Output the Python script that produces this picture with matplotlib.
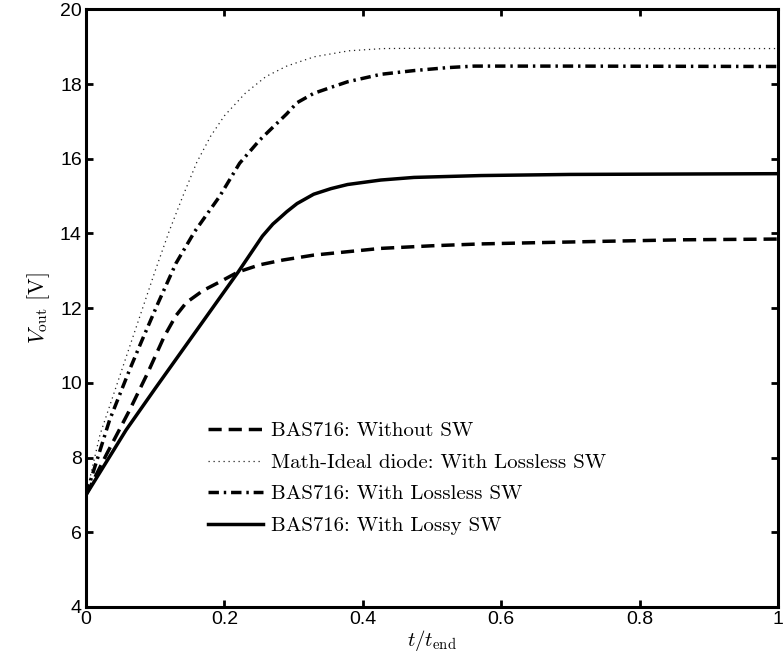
import matplotlib
matplotlib.use('Agg')
import matplotlib.pyplot as plt
from matplotlib import font_manager

plt.rcParams['mathtext.fontset'] = 'cm'

# Исходные данные
t_ideal = [0, 0.02, 0.04, 0.06, 0.08, 0.10, 0.12, 0.14, 0.16, 0.18, 0.20, 0.23,
           0.26, 0.29, 0.33, 0.38, 0.43, 0.5, 0.6, 0.8, 1.0]
v_ideal = [7.0, 8.6, 9.7, 10.8, 11.9, 13.0, 14.05, 15.0, 15.9, 16.6, 17.15, 17.75,
           18.2, 18.48, 18.73, 18.89, 18.95, 18.96, 18.96, 18.95, 18.95]

t_lossless = [0, 0.034, 0.063, 0.08, 0.104, 0.13, 0.157, 0.193, 0.222, 0.251, 0.271,
              0.29, 0.305, 0.329, 0.354, 0.378, 0.426, 0.474, 0.523, 0.561, 0.7, 1.0]
v_lossless = [7.0, 9.0, 10.35, 11.1, 12.13, 13.2, 14.05, 14.99, 15.88, 16.5, 16.86,
              17.2, 17.5, 17.75, 17.91, 18.06, 18.26, 18.36, 18.44, 18.48, 18.48, 18.47]

t_lossy = [0, 0.058, 0.1, 0.15, 0.2, 0.22, 0.255, 0.27, 0.281, 0.29, 0.305, 0.329,
           0.354, 0.378, 0.426, 0.474, 0.571, 0.7, 0.85, 1.0]
v_lossy = [7.0, 8.74, 9.85, 11.15, 12.45, 12.97, 13.93, 14.25, 14.43, 14.58, 14.8, 15.05,
           15.2, 15.31, 15.43, 15.5, 15.55, 15.58, 15.59, 15.6]

t_nosw = [0, 0.03, 0.063, 0.089, 0.113, 0.13, 0.145, 0.169, 0.193, 0.22, 0.251, 0.285,
          0.329, 0.426, 0.5, 0.571, 0.643, 0.75, 0.861, 1.0]
v_nosw = [7.0, 8.1, 9.27, 10.26, 11.24, 11.8, 12.15, 12.47, 12.7, 12.97, 13.16, 13.29,
          13.42, 13.6, 13.67, 13.72, 13.75, 13.79, 13.83, 13.85]

labels = ['BAS716: Without SW',
          'Math-Ideal diode: With Lossless SW',
          'BAS716: With Lossless SW',
          'BAS716: With Lossy SW']

x_ticks = [0, 0.2, 0.4, 0.6, 0.8, 1]
x_tick_labels = ['0', '0.2', '0.4', '0.6', '0.8', '1']
y_ticks = [4, 6, 8, 10, 12, 14, 16, 18, 20]

# узкий шрифт для подписей делений, если он есть
installed = {f.name for f in font_manager.fontManager.ttflist}
tick_font = 'Liberation Sans'
for name in ['Liberation Sans Narrow', 'DejaVu Sans Condensed']:
    if name in installed:
        tick_font = name
        break

fig = plt.figure(figsize=(7.84, 6.71), dpi=100)
ax = fig.add_axes([0.1097, 0.0954, 0.8826, 0.8907])

ax.plot(t_nosw, v_nosw, color='k', lw=2.5, linestyle=(0, (3.8, 2.0)), label=labels[0])
ax.plot(t_ideal, v_ideal, color='#222222', lw=0.9, linestyle=(0, (1, 3)), label=labels[1])
ax.plot(t_lossless, v_lossless, color='k', lw=2.5, linestyle=(0, (3.0, 1.4, 0.7, 1.4)),
        label=labels[2])
ax.plot(t_lossy, v_lossy, color='k', lw=2.5, linestyle='-', label=labels[3])

ax.set_xlim(0, 1)
ax.set_ylim(4, 20)
ax.set_xticks(x_ticks)
ax.set_xticklabels(x_tick_labels)
ax.set_yticks(y_ticks)
ax.tick_params(direction='in', length=5, width=2, top=True, right=True,
               labelsize=14, pad=3)
for lab in ax.get_xticklabels() + ax.get_yticklabels():
    lab.set_family(tick_font)
for sp in ax.spines.values():
    sp.set_linewidth(2.2)

ax.set_xlabel(r'$t/t_{\mathrm{end}}$', fontsize=15, labelpad=0)
ax.set_ylabel(r'$V_{\mathrm{out}}\ [\mathrm{V}]$', fontsize=16, labelpad=6)

leg = ax.legend(loc='upper left', bbox_to_anchor=(0.1763, 0.31), frameon=False,
                borderpad=0, borderaxespad=0, handlelength=2.65, handletextpad=0.38,
                labelspacing=0.62, prop={'family': 'cmr10', 'size': 15})

fig.savefig('out.png', dpi=100)
